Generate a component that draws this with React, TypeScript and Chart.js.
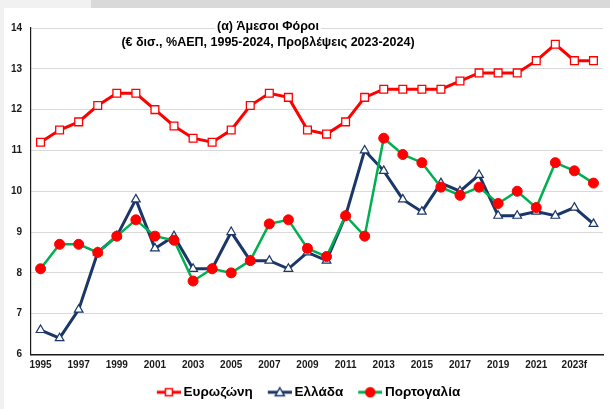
import React, { useEffect, useRef } from 'react';
import { Chart, registerables } from 'chart.js';

Chart.register(...registerables);

const years = [
  '1995', '1996', '1997', '1998', '1999', '2000', '2001', '2002', '2003', '2004',
  '2005', '2006', '2007', '2008', '2009', '2010', '2011', '2012', '2013', '2014',
  '2015', '2016', '2017', '2018', '2019', '2020', '2021', '2022', '2023f', '2024f',
];

const eurozone = [
  11.2, 11.5, 11.7, 12.1, 12.4, 12.4, 12.0, 11.6, 11.3, 11.2,
  11.5, 12.1, 12.4, 12.3, 11.5, 11.4, 11.7, 12.3, 12.5, 12.5,
  12.5, 12.5, 12.7, 12.9, 12.9, 12.9, 13.2, 13.6, 13.2, 13.2,
];

const greece = [
  6.6, 6.4, 7.1, 8.5, 8.9, 9.8, 8.6, 8.9, 8.1, 8.1,
  9.0, 8.3, 8.3, 8.1, 8.5, 8.3, 9.4, 11.0, 10.5, 9.8,
  9.5, 10.2, 10.0, 10.4, 9.4, 9.4, 9.5, 9.4, 9.6, 9.2,
];

const portugal = [
  8.1, 8.7, 8.7, 8.5, 8.9, 9.3, 8.9, 8.8, 7.8, 8.1,
  8.0, 8.3, 9.2, 9.3, 8.6, 8.4, 9.4, 8.9, 11.3, 10.9,
  10.7, 10.1, 9.9, 10.1, 9.7, 10.0, 9.6, 10.7, 10.5, 10.2,
];

const seriesNames = ['Ευρωζώνη', 'Ελλάδα', 'Πορτογαλία'];
const titleLines = ['(α) Άμεσοι Φόροι', '(€ δισ., %ΑΕΠ, 1995-2024, Προβλέψεις 2023-2024)'];
const yMin = 6;
const yMax = 14;

const RED = '#ff0000';
const NAVY = '#1b3768';
const GREEN = '#00b050';
const FONT = '"Liberation Sans", Arial, sans-serif';

const ICON_W = 38;

function makeIcon(lineColor: string, lineWidth: number, shape: string, fill: string, stroke: string) {
  const c = document.createElement('canvas');
  c.width = ICON_W;
  c.height = 14;
  const ctx = c.getContext('2d')!;
  const x0 = ICON_W - 24;
  const cx = x0 + 12;
  ctx.strokeStyle = lineColor;
  ctx.lineWidth = lineWidth;
  ctx.beginPath();
  ctx.moveTo(x0, 7);
  ctx.lineTo(ICON_W, 7);
  ctx.stroke();
  ctx.fillStyle = fill;
  ctx.strokeStyle = stroke;
  ctx.lineWidth = 1.5;
  ctx.beginPath();
  if (shape === 'rect') {
    ctx.rect(cx - 3.5, 3.5, 7, 7);
  } else if (shape === 'triangle') {
    ctx.moveTo(cx, 2.5);
    ctx.lineTo(cx + 4.5, 10.5);
    ctx.lineTo(cx - 4.5, 10.5);
    ctx.closePath();
  } else {
    ctx.arc(cx, 7, 4.5, 0, Math.PI * 2);
  }
  ctx.fill();
  ctx.stroke();
  return c;
}

const titlePlugin = {
  id: 'titleOverlay',
  afterDraw(chart: any) {
    const ctx = chart.ctx;
    ctx.save();
    ctx.font = `bold 12.5px ${FONT}`;
    ctx.textAlign = 'center';
    ctx.textBaseline = 'middle';
    const cx = 264;
    const ys = [18.5, 34.5];
    titleLines.forEach((t, i) => {
      const w = ctx.measureText(t).width;
      ctx.fillStyle = '#ffffff';
      ctx.fillRect(cx - w / 2 - 2, ys[i] - 7, w + 4, 14);
      ctx.fillStyle = '#000000';
      ctx.fillText(t, cx, ys[i]);
    });
    ctx.restore();
  },
};

export default function App() {
  const ref = useRef<HTMLCanvasElement | null>(null);

  useEffect(() => {
    if (!ref.current) return;
    const icons = [
      makeIcon(RED, 3, 'rect', '#ffffff', RED),
      makeIcon(NAVY, 3, 'triangle', '#ffffff', NAVY),
      makeIcon(GREEN, 3, 'circle', RED, RED),
    ];
    const chart = new Chart(ref.current, {
      type: 'line',
      data: {
        labels: years,
        datasets: [
          {
            label: seriesNames[0],
            data: eurozone,
            borderColor: RED,
            backgroundColor: '#ffffff',
            borderWidth: 3,
            pointStyle: 'rect',
            pointRadius: 5.5,
            pointBorderColor: RED,
            pointBackgroundColor: '#ffffff',
            pointBorderWidth: 1.3,
            order: 2,
          },
          {
            label: seriesNames[1],
            data: greece,
            borderColor: NAVY,
            backgroundColor: '#ffffff',
            borderWidth: 3,
            pointStyle: 'triangle',
            pointRadius: 5,
            pointBorderColor: NAVY,
            pointBackgroundColor: '#ffffff',
            pointBorderWidth: 1.2,
            order: 1,
          },
          {
            label: seriesNames[2],
            data: portugal,
            borderColor: GREEN,
            backgroundColor: RED,
            borderWidth: 2.5,
            pointStyle: 'circle',
            pointRadius: 5,
            pointBorderColor: RED,
            pointBackgroundColor: RED,
            pointBorderWidth: 1,
            order: 0,
          },
        ],
      },
      options: {
        responsive: false,
        animation: false,
        layout: { padding: { top: 20, right: 7, left: 0, bottom: 0 } },
        plugins: {
          tooltip: { enabled: false },
          title: { display: false },
          legend: {
            display: true,
            position: 'bottom',
            labels: {
              usePointStyle: true,
              pointStyleWidth: 30,
              padding: 5,
              color: '#000000',
              font: { family: FONT, size: 13.5, weight: 'bold' },
              generateLabels: (ch: any) =>
                ch.data.datasets.map((ds: any, i: number) => ({
                  text: ds.label,
                  fillStyle: ds.borderColor,
                  strokeStyle: ds.borderColor,
                  pointStyle: icons[i],
                  hidden: false,
                  datasetIndex: i,
                  fontColor: '#000000',
                })),
            },
          },
        },
        scales: {
          x: {
            offset: true,
            grid: { display: false, drawTicks: false },
            border: { display: true, color: '#1a1a1a', width: 1.5 },
            afterFit: (s: any) => {
              s.height = 26;
            },
            ticks: {
              autoSkip: false,
              maxRotation: 0,
              padding: 5,
              color: '#1a1a1a',
              font: { family: FONT, size: 10, weight: 'bold' },
              callback: function (this: any, _v: any, i: number) {
                return i % 2 === 0 ? years[i] : '';
              },
            },
          },
          y: {
            min: yMin,
            max: yMax,
            grid: { display: true, color: '#d9d9d9', lineWidth: 1, drawTicks: false },
            border: { display: true, color: '#1a1a1a', width: 1.2 },
            afterFit: (s: any) => {
              s.width = 27;
            },
            ticks: {
              stepSize: 1,
              padding: 9,
              color: '#1a1a1a',
              font: { family: FONT, size: 10, weight: 'bold' },
            },
          },
        },
      },
      plugins: [titlePlugin],
    } as any);
    return () => chart.destroy();
  }, []);

  return (
    <div style={{ position: 'fixed', left: 0, top: 0, width: 610, height: 409, background: '#f1f1f1', overflow: 'hidden' }}>
      <div style={{ position: 'absolute', left: 91, top: 0, width: 519, height: 8, background: '#d9d9d9' }} />
      <canvas
        ref={ref}
        width={606}
        height={401}
        style={{ position: 'absolute', left: 4, top: 8, width: 606, height: 401, background: '#ffffff' }}
      />
    </div>
  );
}
